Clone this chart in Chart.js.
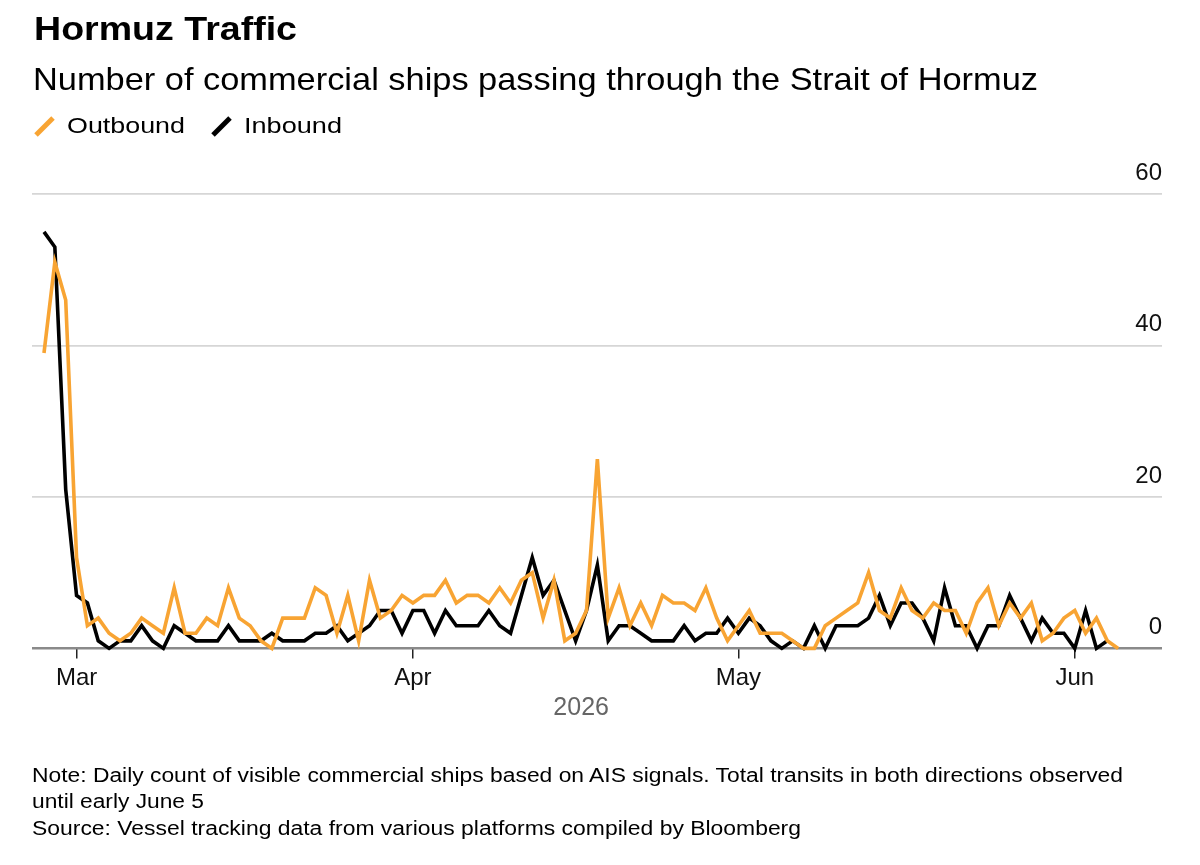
<!DOCTYPE html>
<html><head><meta charset="utf-8">
<script src="https://cdn.jsdelivr.net/npm/chart.js@4.4.1/dist/chart.umd.min.js"></script>
<style>
html,body{margin:0;padding:0;background:#fff;}
body{width:1200px;height:865px;position:relative;overflow:hidden;font-family:"Liberation Sans",Arial,sans-serif;color:#000;}
.t{position:absolute;white-space:nowrap;transform-origin:0 0;line-height:1;}
#wrap{position:absolute;left:0;top:0;width:1200px;height:865px;}
svg.leg{position:absolute;left:0;top:0;}
</style></head><body>
<div id="wrap"><canvas id="c" width="1200" height="865"></canvas></div>
<svg class="leg" width="300" height="150"><line x1="36" y1="135" x2="53" y2="118" stroke="#F8A433" stroke-width="5"/><line x1="213" y1="135" x2="230" y2="118" stroke="#000" stroke-width="5"/></svg>
<div class="t" data-w="263" style="left:34px;top:12.3px;font-size:33.5px;font-weight:bold;">Hormuz Traffic</div>
<div class="t" data-w="1005" style="left:32.7px;top:64.3px;font-size:30.5px;">Number of commercial ships passing through the Strait of Hormuz</div>
<div class="t" data-w="118" style="left:67px;top:115.4px;font-size:22.5px;">Outbound</div>
<div class="t" data-w="98" style="left:244px;top:115.4px;font-size:22.5px;">Inbound</div>
<div class="t" data-w="1091" style="left:32px;top:765.5px;font-size:19.5px;">Note: Daily count of visible commercial ships based on AIS signals. Total transits in both directions observed</div>
<div class="t" data-w="172" style="left:32px;top:791.5px;font-size:19.5px;">until early June 5</div>
<div class="t" data-w="769" style="left:32px;top:818.5px;font-size:19.5px;">Source: Vessel tracking data from various platforms compiled by Bloomberg</div>
<script>
// ---- data ----
const startDate = '2026-02-26';
const outboundFeb = [39, 51, 46];
const inboundFeb  = [55, 53, 21];
const outboundMar = [12,3,4,2,1,2,4,3,2,8,2,2,4,3,8,4,3,1,0,4,4,4,8,7,2,7,1,9,4,5,7];
const inboundMar  = [7,6,1,0,1,1,3,1,0,3,2,1,1,1,3,1,1,1,2,1,1,1,2,2,3,1,2,3,5,5,2];
const outboundApr = [6,7,7,9,6,7,7,6,8,6,9,10,4,9,1,2,5,25,4,8,3,6,3,7,6,6,5,8,4,1];
const inboundApr  = [5,5,2,5,3,3,3,5,3,2,7,12,7,9,5,1,5,11,1,3,3,2,1,1,1,3,1,2,2,4];
const outboundMay = [3,5,2,2,2,1,0,0,3,4,5,6,10,5,4,8,5,4,6,5,5,2,6,8,3,6,4,6,1,2,4];
const inboundMay  = [2,4,3,1,0,1,0,3,0,3,3,3,4,7,3,6,6,4,1,8,3,3,0,3,3,7,4,1,4,2,2];
const outboundJun = [5,2,4,1,0];
const inboundJun  = [0,5,0,1,null];

const outbound = [...outboundFeb, ...outboundMar, ...outboundApr, ...outboundMay, ...outboundJun];
const inbound  = [...inboundFeb, ...inboundMar, ...inboundApr, ...inboundMay, ...inboundJun];

// categories: one per day
const categories = [];
{
  const d0 = new Date(startDate + 'T00:00:00Z');
  for (let i = 0; i < outbound.length; i++) {
    const d = new Date(d0.getTime() + i * 86400000);
    categories.push(d.toISOString().slice(0, 10));
  }
}
const tickDates  = ['2026-03-01', '2026-04-01', '2026-05-01', '2026-06-01'];
const tickLabels = ['Mar', 'Apr', 'May', 'Jun'];
const yTicks = [0, 20, 40, 60];
const yearText = '2026';
const seriesNames = ['Outbound', 'Inbound'];
const colors = {outbound: '#F8A433', inbound: '#000000'};

const toPts = arr => arr.map((v, i) => ({x: i, y: v}));
const tickIdx = tickDates.map(d => categories.indexOf(d));

// fit text widths
document.querySelectorAll('.t').forEach(el => {
  const w = el.getBoundingClientRect().width;
  const target = parseFloat(el.dataset.w);
  el.style.transform = 'scaleX(' + (target / w) + ')';
});

const yearPlugin = {
  id: 'yearLabel',
  afterDraw(chart) {
    const ctx = chart.ctx, a = chart.chartArea;
    ctx.save();
    ctx.font = '25px "Liberation Sans", Arial, sans-serif';
    ctx.fillStyle = '#666666';
    ctx.textAlign = 'center';
    ctx.textBaseline = 'middle';
    ctx.fillText(yearText, a.left + a.width * 0.486, a.bottom + 60);
    ctx.restore();
  }
};

new Chart(document.getElementById('c'), {
  type: 'line',
  data: {
    datasets: [
      {label: seriesNames[0], data: toPts(outbound), borderColor: colors.outbound, borderWidth: 3.6, pointRadius: 0, tension: 0, clip: false, spanGaps: false},
      {label: seriesNames[1], data: toPts(inbound), borderColor: colors.inbound, borderWidth: 3.6, pointRadius: 0, tension: 0, clip: false, spanGaps: false}
    ]
  },
  options: {
    responsive: false,
    devicePixelRatio: 1,
    animation: false,
    events: [],
    layout: {padding: {left: 32, right: 38, top: 194, bottom: 166.6}},
    plugins: {legend: {display: false}, tooltip: {enabled: false}},
    scales: {
      x: {
        type: 'linear',
        min: -1.106,
        max: 103.04,
        afterBuildTicks: ax => { ax.ticks = tickIdx.map(v => ({value: v})); },
        grid: {display: true, drawOnChartArea: false, drawTicks: true, tickLength: 10, color: '#222', lineWidth: 1.5},
        border: {display: false},
        ticks: {
          padding: 5.6,
          font: {family: '"Liberation Sans", Arial, sans-serif', size: 24},
          color: '#111',
          maxRotation: 0,
          autoSkip: false,
          callback: v => { const k = tickIdx.indexOf(v); return k >= 0 ? tickLabels[k] : ''; }
        }
      },
      y: {
        position: 'right',
        min: 0,
        max: 60,
        afterBuildTicks: ax => { ax.ticks = yTicks.map(v => ({value: v})); },
        grid: {
          drawTicks: false,
          color: c => c.tick && c.tick.value === 0 ? '#8a8a8a' : '#d6d6d6',
          lineWidth: c => c.tick && c.tick.value === 0 ? 2.6 : 1.8
        },
        border: {display: false},
        ticks: {
          mirror: true,
          padding: 0,
          labelOffset: -21,
          font: {family: '"Liberation Sans", Arial, sans-serif', size: 24},
          color: '#111'
        }
      }
    }
  },
  plugins: [yearPlugin]
});
</script>
</body></html>
